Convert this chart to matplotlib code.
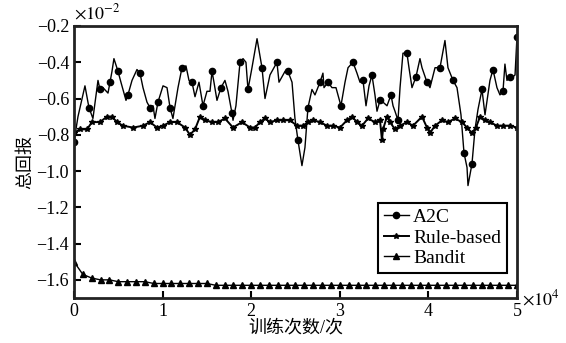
import matplotlib.pyplot as plt

plt.rcParams['font.family'] = ['Liberation Serif', 'Noto Sans CJK SC']
plt.rcParams['mathtext.fontset'] = 'stix'

# total reward, in units of 1e-2, against training steps
a2c_steps = [0, 450, 1240, 1690, 2140, 2710, 2930, 3270, 3840, 4060, 4290, 4510,
             4970, 5300, 5870, 6090, 6550, 7110, 7450, 7790, 8240, 8580, 8920,
             9140, 9480, 10050, 10500, 10840, 11170, 11740, 12190, 12640, 12980,
             13320, 13660, 14110, 14560, 15010, 15350, 15580, 15800, 16140,
             16590, 17040, 17380, 17830, 17950, 18280, 18740, 19080, 19410,
             19640, 20090, 20660, 21220, 21560, 22120, 22910, 23140, 23820,
             24150, 24610, 24940, 25280, 25730, 26070, 26410, 26860, 27200,
             27770, 28100, 28220, 28670, 29120, 29570, 30130, 30590, 30930,
             31490, 31940, 32280, 32620, 32960, 33300, 33630, 33970, 34200,
             34540, 34880, 35330, 35780, 36010, 36230, 36570, 36800, 37130,
             37580, 37810, 38150, 38600, 39050, 39280, 39840, 40180, 40750,
             41310, 41870, 42210, 42780, 43230, 43680, 44020, 44360, 44470,
             44920, 45260, 45600, 46050, 46390, 46950, 47290, 47740, 48080,
             48420, 48640, 48870, 49210, 49550, 49780, 50000]
a2c_reward = [-0.84, -0.70, -0.53, -0.65, -0.71, -0.50, -0.55, -0.54, -0.57,
              -0.51, -0.45, -0.38, -0.45, -0.51, -0.61, -0.58, -0.50, -0.44,
              -0.46, -0.54, -0.62, -0.65, -0.64, -0.71, -0.62, -0.53, -0.54,
              -0.65, -0.71, -0.54, -0.43, -0.42, -0.50, -0.51, -0.59, -0.51,
              -0.64, -0.56, -0.56, -0.45, -0.51, -0.61, -0.54, -0.50, -0.56,
              -0.68, -0.72, -0.64, -0.40, -0.38, -0.40, -0.55, -0.43, -0.27,
              -0.43, -0.60, -0.47, -0.40, -0.51, -0.45, -0.45, -0.51, -0.71,
              -0.83, -0.97, -0.87, -0.65, -0.55, -0.58, -0.51, -0.46, -0.54,
              -0.51, -0.54, -0.54, -0.64, -0.51, -0.43, -0.40, -0.46, -0.51,
              -0.50, -0.64, -0.53, -0.47, -0.58, -0.67, -0.61, -0.62, -0.64,
              -0.58, -0.64, -0.67, -0.72, -0.54, -0.35, -0.35, -0.43, -0.54,
              -0.48, -0.38, -0.43, -0.51, -0.54, -0.43, -0.43, -0.28, -0.43,
              -0.50, -0.54, -0.69, -0.90, -0.98, -1.08, -0.96, -0.77, -0.66,
              -0.55, -0.69, -0.50, -0.44, -0.54, -0.58, -0.56, -0.41, -0.50,
              -0.48, -0.48, -0.47, -0.26]

rule_steps = [0, 680, 1470, 2030, 2930, 3720, 4290, 4850, 5530, 6660, 7790,
              8580, 9370, 10050, 10840, 11630, 12530, 13090, 13660, 14220,
              14790, 15580, 16250, 17040, 17950, 18960, 19870, 20430, 20990,
              21560, 22120, 22910, 23590, 24380, 25170, 25850, 26410, 26980,
              27770, 28560, 29230, 30020, 30810, 31380, 31940, 32510, 33180,
              33970, 34540, 34760, 34880, 35330, 35670, 36230, 36800, 37580,
              38260, 39280, 39840, 40180, 40750, 41540, 42210, 43000, 43790,
              44360, 44920, 45370, 45830, 46390, 46950, 47740, 48420, 49210,
              50000]
rule_reward = [-0.79, -0.77, -0.77, -0.73, -0.73, -0.70, -0.70, -0.73, -0.75,
               -0.76, -0.75, -0.73, -0.76, -0.75, -0.73, -0.73, -0.76, -0.80,
               -0.77, -0.70, -0.72, -0.73, -0.73, -0.71, -0.76, -0.73, -0.76,
               -0.76, -0.73, -0.71, -0.73, -0.72, -0.72, -0.72, -0.75, -0.75,
               -0.73, -0.72, -0.73, -0.75, -0.75, -0.76, -0.72, -0.70, -0.73,
               -0.75, -0.71, -0.73, -0.72, -0.83, -0.77, -0.70, -0.73, -0.77,
               -0.75, -0.73, -0.75, -0.70, -0.76, -0.79, -0.75, -0.72, -0.73,
               -0.71, -0.73, -0.76, -0.79, -0.76, -0.70, -0.72, -0.73, -0.75,
               -0.75, -0.75, -0.76]

bandit_steps = list(range(0, 50001, 1000))
bandit_reward = ([-1.50, -1.57, -1.59, -1.60, -1.60, -1.61, -1.61, -1.61, -1.61,
                  -1.62, -1.62, -1.62, -1.62, -1.62, -1.62, -1.62]
                 + [-1.63] * 35)

fig = plt.figure(figsize=(5.66, 3.43), dpi=100)
ax = fig.add_axes([0.1307, 0.1312, 0.7827, 0.793])

ax.plot(a2c_steps, [v * 1e-2 for v in a2c_reward], '-o', color='black',
        lw=1.0, ms=4.5, markevery=3, label='A2C')
ax.plot(rule_steps, [v * 1e-2 for v in rule_reward], '-*', color='black',
        lw=1.4, ms=4, label='Rule-based')
ax.plot(bandit_steps, [v * 1e-2 for v in bandit_reward], '-^', color='black',
        lw=1.0, ms=5, label='Bandit')

ax.set_xlim(0, 50000)
ax.set_ylim(-0.017, -0.002)
ax.set_xticks(range(0, 50001, 10000))
ax.set_yticks([v * 1e-2 for v in [-1.6, -1.4, -1.2, -1.0, -0.8, -0.6, -0.4, -0.2]])
ax.ticklabel_format(style='sci', scilimits=(0, 0))
ax.tick_params(direction='in', length=5, width=1.5, labelsize=13, colors='black')
# scale factors are written by hand next to the axes
ax.xaxis.get_offset_text().set_visible(False)
ax.yaxis.get_offset_text().set_visible(False)
ax.text(0.0, 1.012, r'$\times10^{-2}$', transform=ax.transAxes,
        fontsize=13, ha='left', va='bottom')
ax.text(1.012, -0.04, r'$\times10^{4}$', transform=ax.transAxes,
        fontsize=13, ha='left', va='bottom')
for s in ax.spines.values():
    s.set_linewidth(2)
    s.set_color('#222222')

ax.set_xlabel('训练次数/次', fontsize=13, labelpad=0)
ax.set_ylabel('总回报', fontsize=13, labelpad=2)

leg = ax.legend(loc='lower right', bbox_to_anchor=(0.977, 0.092), fontsize=14,
                fancybox=False, framealpha=1, edgecolor='black',
                handlelength=1.3, handletextpad=0.2, borderpad=0.3,
                labelspacing=0.15, borderaxespad=0)
leg.get_frame().set_linewidth(1.5)

fig.savefig('out.png', dpi=100)
